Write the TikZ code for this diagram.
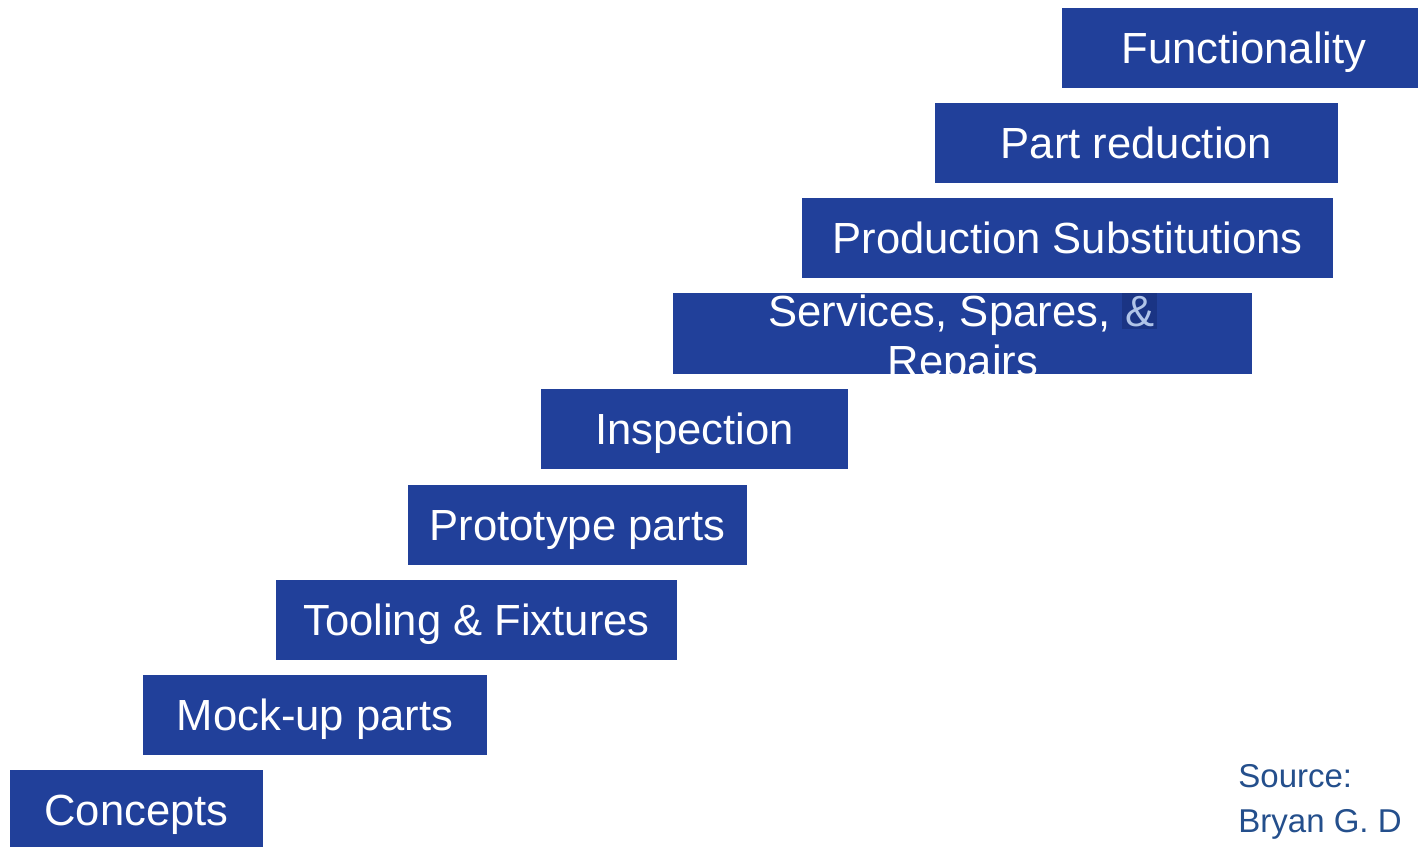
\documentclass[tikz,border=0pt]{standalone}
\usepackage{fontspec}
\setmainfont{Liberation Sans}
\definecolor{stepblue}{RGB}{33,64,154}
\definecolor{ampbg}{RGB}{26,52,132}
\definecolor{amptext}{RGB}{176,196,232}
\definecolor{srcblue}{RGB}{36,79,140}
\tikzset{
  stepbox/.style={fill=stepblue, draw=none, inner sep=0pt, text=white,
    text height=15.6pt, text depth=0pt,
    font=\fontsize{21.8pt}{25pt}\selectfont},
  steptext/.style={text=white, inner sep=0pt,
    font=\fontsize{21.8pt}{25pt}\selectfont},
  srctext/.style={text=srcblue, inner sep=0pt, anchor=base west,
    font=\fontsize{16.5pt}{22.5pt}\selectfont}
}
\begin{document}
\begin{tikzpicture}[x=0.5pt,y=-0.5pt]
  \useasboundingbox (0,0) rectangle (1418,846);
  \clip (0,0) rectangle (1418,846);
  \fill[white] (0,0) rectangle (1418,846);

  % staircase of steps, top-right down to the wrapped step
  \node[stepbox, minimum width=182pt, minimum height=40pt] (func) at (1244,48) {Functionality};
  \node[stepbox, minimum width=201.5pt, minimum height=40pt] (partred) at (1136.5,143) {Part reduction};
  \node[stepbox, minimum width=265.5pt, minimum height=40pt] (prodsub) at (1067.5,238) {Production Substitutions};
  \node[stepbox, minimum width=289.5pt, minimum height=40.5pt] (ssr) at (962.5,333.5) {};
  \node[steptext, anchor=base] (ssrA) at (963,326)
    {Services, Spares, {\setlength\fboxsep{1.5pt}\colorbox{ampbg}{\textcolor{amptext}{\&}}}};
  \node[steptext, anchor=base] (ssrB) at (963,376) {Repairs};
  % white band hides the part of the wrapped label below its box
  \fill[white] (673,374) rectangle (1260,389);

  % lower steps
  \node[stepbox, minimum width=153.5pt, minimum height=40pt] (insp) at (694.5,429) {Inspection};
  \node[stepbox, minimum width=169.5pt, minimum height=40pt] (proto) at (577.5,525) {Prototype parts};
  \node[stepbox, minimum width=200.5pt, minimum height=40pt] (tool) at (476.5,620) {Tooling \& Fixtures};
  \node[stepbox, minimum width=172pt, minimum height=40pt] (mock) at (315,715) {Mock-up parts};
  \node[stepbox, minimum width=126.5pt, minimum height=40pt] (conc) at (136.5,810) {Concepts};

  % source note
  \node[srctext] (src1) at (1238,787) {Source:};
  \node[srctext] (src2) at (1238,832) {Bryan G. D};
\end{tikzpicture}
\end{document}
